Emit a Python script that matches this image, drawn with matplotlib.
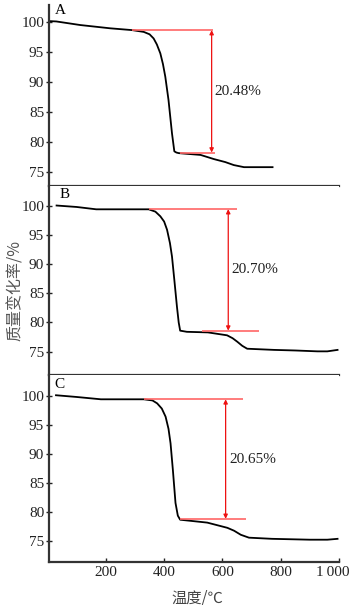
import numpy as np
import matplotlib
matplotlib.use('Agg')
import matplotlib.pyplot as plt

plt.rcParams['font.family'] = ['Liberation Serif', 'Noto Sans CJK SC']
plt.rcParams['font.size'] = 11

# TG curves for samples A, B, C (temperature in C, mass in %)
T_a = [8, 30, 112, 215, 290, 330, 350, 364, 375, 387, 396, 404, 415, 427, 435, 442, 450, 525, 571, 610, 639, 674, 772]
m_a = [100.2, 100.15, 99.55, 99.0, 98.7, 98.4, 98.0, 97.3, 96.3, 94.8, 93.0, 90.9, 87.0, 81.4, 78.4, 78.2, 78.1, 77.8, 77.1, 76.6, 76.1, 75.75, 75.75]

T_b = [31, 100, 167, 250, 347, 370, 387, 400, 410, 420, 427, 435, 444, 450, 455, 478, 550, 616, 635, 651, 668, 685, 777, 850, 926, 960, 995]
m_b = [100.05, 99.8, 99.4, 99.4, 99.4, 99.0, 98.2, 97.3, 95.9, 93.6, 91.3, 87.3, 82.7, 80.0, 78.6, 78.4, 78.3, 77.8, 77.3, 76.7, 76.0, 75.5, 75.3, 75.2, 75.05, 75.05, 75.3]

T_c = [29, 100, 183, 250, 330, 360, 376, 392, 405, 415, 422, 430, 439, 447, 455, 548, 617, 640, 663, 691, 770, 900, 960, 995]
m_c = [100.1, 99.8, 99.4, 99.4, 99.4, 99.2, 98.7, 97.8, 96.4, 94.3, 91.8, 87.2, 81.5, 79.3, 78.6, 78.1, 77.2, 76.7, 76.0, 75.5, 75.3, 75.15, 75.15, 75.3]

labels = ['A', 'B', 'C']
losses = ['20.48%', '20.70%', '20.65%']
# step levels (upper, lower) and their horizontal extents
upper = [98.7, 99.43, 99.4]
lower = [78.2, 78.6, 78.75]
upper_span = [(290, 567), (347, 651), (330, 670)]
lower_span = [(453, 573), (531, 725), (456, 682)]
arrow_T = [563, 620, 611]
text_T = [573, 631, 625]

x_ticks = [200, 400, 600, 800, 1000]
x_ticklabels = ['200', '400', '600', '800', '1\u2009000']
y_ticks = [75, 80, 85, 90, 95, 100]

curves = [(T_a, m_a), (T_b, m_b), (T_c, m_c)]
ylims = [(72.6, 102.9), (71.0, 103.4), (71.3, 103.6)]
boxes = [(0.6926, 0.9917), (0.3802, 0.6926), (0.0711, 0.3802)]
letter_pos = [(26, 102.05), (40, 101.9), (23, 102.0)]

fig = plt.figure(figsize=(3.5, 6.05), dpi=100)
left, right = 0.14, 0.9686

for i in range(3):
    b, t = boxes[i]
    ax = fig.add_axes([left, b, right - left, t - b])
    T, m = curves[i]
    ax.plot(T, m, color='black', lw=1.3)

    ax.hlines(upper[i], *upper_span[i], color='#ff6666', lw=1.2)
    ax.hlines(lower[i], *lower_span[i], color='#ff6666', lw=1.2)
    ax.annotate('', xy=(arrow_T[i], upper[i]), xytext=(arrow_T[i], lower[i]),
                arrowprops=dict(arrowstyle='<|-|>', color='#ee1111', lw=0.9,
                                mutation_scale=6, shrinkA=0, shrinkB=0))
    ax.text(text_T[i], (upper[i] + lower[i]) / 2, losses[i], ha='left', va='center',
            fontsize=11, color='#222222')
    ax.text(*letter_pos[i], labels[i], ha='left', va='center', fontsize=11)

    ax.set_xlim(5, 1000)
    ax.set_ylim(*ylims[i])
    ax.set_yticks(y_ticks)
    ax.set_xticks(x_ticks)
    # last label is drawn separately so it stays on the canvas
    ax.set_xticklabels(x_ticklabels[:-1] + [''])
    for s in ['top', 'right']:
        ax.spines[s].set_visible(False)
    for s in ['left', 'bottom']:
        ax.spines[s].set_linewidth(1.6)
        ax.spines[s].set_color('#333333')
    ax.tick_params(axis='y', direction='inout', length=4, width=1, pad=1.5,
                   colors='#222222')
    ax.tick_params(axis='x', direction='in', length=3, width=1, pad=3,
                   colors='#222222')
    if i < 2:
        ax.tick_params(axis='x', bottom=False, labelbottom=False)
    else:
        ax.annotate(x_ticklabels[-1], xy=(x_ticks[-1], 0),
                    xycoords=('data', 'axes fraction'), xytext=(7.5, -3),
                    textcoords='offset points', ha='right', va='top',
                    fontsize=11, color='#222222')

fig.text(0.043, 0.52, '质量变化率/%', rotation=90, ha='center', va='center',
         fontsize=11.5, color='#555555', family=['Noto Sans CJK SC', 'DejaVu Sans'])
fig.text(0.563, 0.012, '温度/℃', ha='center', va='center',
         fontsize=11, color='#444444', family=['Noto Sans CJK SC', 'DejaVu Sans'])

fig.savefig('out.png', dpi=100)
